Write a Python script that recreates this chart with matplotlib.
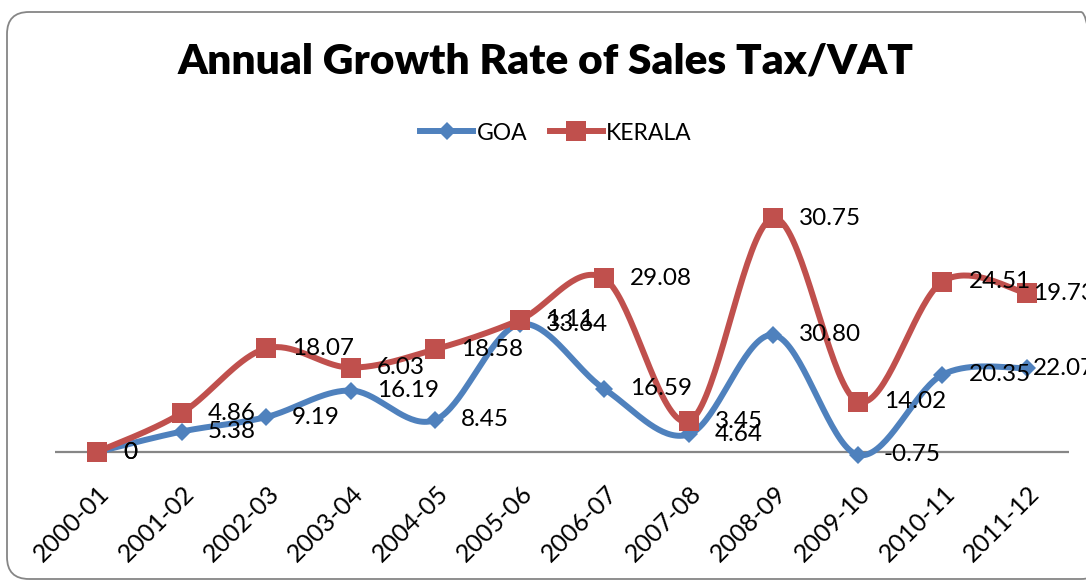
import numpy as np
import matplotlib
matplotlib.use("Agg")
import matplotlib.pyplot as plt
from matplotlib.lines import Line2D
from matplotlib.patches import FancyBboxPatch
from matplotlib.transforms import IdentityTransform, ScaledTranslation

# Annual growth rate of sales tax / VAT (%)
years = ["2000-01", "2001-02", "2002-03", "2003-04", "2004-05", "2005-06",
         "2006-07", "2007-08", "2008-09", "2009-10", "2010-11", "2011-12"]
goa = [0, 5.38, 9.19, 16.19, 8.45, 33.64, 16.59, 4.64, 30.80, -0.75, 20.35, 22.07]
kerala = [0, 4.86, 18.07, 6.03, 18.58, 1.11, 29.08, 3.45, 30.75, 14.02, 24.51, 19.73]
goa_labels = ["0", "5.38", "9.19", "16.19", "8.45", "33.64", "16.59", "4.64",
              "30.80", "-0.75", "20.35", "22.07"]
kerala_labels = ["0", "4.86", "18.07", "6.03", "18.58", "1.11", "29.08", "3.45",
                 "30.75", "14.02", "24.51", "19.73"]

BLUE = "#4F81BD"
RED = "#C0504D"
FONT = "Lato"
plt.rcParams["font.family"] = [FONT, "DejaVu Sans"]


def smooth(x, y, n=40):
    """Piecewise cubic Bezier through the points (spreadsheet-style smoothing)."""
    x = np.asarray(x, float)
    y = np.asarray(y, float)
    px = np.concatenate([[x[0]], x, [x[-1]]])
    py = np.concatenate([[y[0]], y, [y[-1]]])
    t = np.linspace(0, 1, n)[:, None]
    xs, ys = [], []
    for i in range(len(x) - 1):
        p0 = np.array([px[i], py[i]])
        p1 = np.array([px[i + 1], py[i + 1]])
        p2 = np.array([px[i + 2], py[i + 2]])
        p3 = np.array([px[i + 3], py[i + 3]])
        c1 = p1 + (p2 - p0) / 6.0
        c2 = p2 - (p3 - p1) / 6.0
        pts = ((1 - t) ** 3) * p1 + 3 * ((1 - t) ** 2) * t * c1 \
            + 3 * (1 - t) * t ** 2 * c2 + t ** 3 * p2
        xs.append(pts[:, 0])
        ys.append(pts[:, 1])
    return np.concatenate(xs), np.concatenate(ys)


W, H = 1086, 581
fig = plt.figure(figsize=(W / 100, H / 100), dpi=100)
fig.patch.set_facecolor("white")

# rounded chart-area border
frame = FancyBboxPatch((7, 2), W + 10, H - 14,
                       boxstyle="round,pad=0,rounding_size=22",
                       transform=IdentityTransform(), facecolor="none",
                       edgecolor="#868686", linewidth=1.3, zorder=0)
fig.add_artist(frame)

ax = fig.add_axes([54.7 / W, 0.1566, 1014.6 / W, 0.5232])
ax.set_xlim(-0.5, len(years) - 0.5)
ax.set_ylim(-10, 70)
ax.patch.set_alpha(0)
for s in ax.spines.values():
    s.set_visible(False)
ax.yaxis.set_visible(False)
ax.axhline(0, color="#868686", lw=1.6, zorder=1)

x = np.arange(len(years))
goa_arr = np.array(goa)
stack = goa_arr + np.array(kerala)  # stacked line chart

for vals, color, marker, ms, z in [(goa_arr, BLUE, "D", 9.0, 3),
                                   (stack, RED, "s", 14.0, 4)]:
    sx, sy = smooth(x, vals)
    ax.plot(sx, sy, color=color, lw=4.3, solid_capstyle="round", zorder=z)
    ax.plot(x, vals, linestyle="none", marker=marker, markersize=ms,
            color=color, markeredgewidth=0, zorder=z)

# value labels to the right of each point; the last column is pulled in
# so it stays inside the chart area
for vals, labels in [(goa_arr, goa_labels), (stack, kerala_labels)]:
    for xi, v, lab in zip(x, vals, labels):
        dx = 6 if xi == x[-1] else 26
        ax.annotate(lab, (xi, v), xytext=(dx, 0), textcoords="offset pixels",
                    ha="left", va="center", fontsize=17.5, color="black",
                    zorder=6)

ax.set_xticks(x)
ax.set_xticklabels(years, rotation=45, ha="right", va="center",
                   rotation_mode="anchor", fontsize=18)
ax.tick_params(axis="x", length=0, pad=0)
shift = ScaledTranslation(9 / 100, 0, fig.dpi_scale_trans)
for lab in ax.get_xticklabels():
    lab.set_transform(lab.get_transform() + shift)

fig.text(546 / W, 1 - 62 / H, "Annual Growth Rate of Sales Tax/VAT",
         ha="center", va="center", fontsize=30.5, fontweight="heavy")

handles = [Line2D([], [], color=BLUE, lw=4.3, marker="D", markersize=9,
                  markeredgewidth=0),
           Line2D([], [], color=RED, lw=4.3, marker="s", markersize=14,
                  markeredgewidth=0)]
fig.legend(handles, ["GOA", "KERALA"], loc="center",
           bbox_to_anchor=(556 / W, 1 - 133 / H), ncol=2, frameon=False,
           fontsize=16.5, handlelength=2.3, handletextpad=0.15,
           columnspacing=1.0)

fig.savefig("out.png", dpi=100)
